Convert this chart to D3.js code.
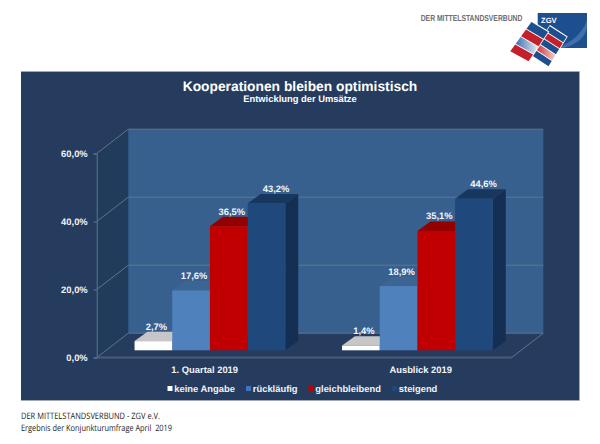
<!DOCTYPE html>
<html lang="de">
<head>
<meta charset="utf-8">
<script src="https://cdn.jsdelivr.net/npm/d3@7/dist/d3.min.js"></script>
<style>
  html, body { margin: 0; padding: 0; background: #fff; }
  svg { display: block; }
  text { font-family: "Liberation Sans", Arial, sans-serif; text-rendering: geometricPrecision; }
</style>
</head>
<body>
<svg id="chart" width="600" height="444"></svg>
<script>
// Survey values, percent
const categories = ["1. Quartal 2019", "Ausblick 2019"];
const seriesNames = ["keine Angabe", "rückläufig", "gleichbleibend", "steigend"];
const keineAngabe = [2.7, 1.4];
const ruecklaeufig = [17.6, 18.9];
const gleichbleibend = [36.5, 35.1];
const steigend = [43.2, 44.6];
const yTicks = [0, 20, 40, 60];

const seriesValues = [keineAngabe, ruecklaeufig, gleichbleibend, steigend];
const fronts = ["#ffffff", "#4f81bd", "#c00000", "#1f497d"];
const tops = ["#c6c6c6", "#3d6593", "#930000", "#17375e"];
const sides = ["#a8a8a8", "#3a6090", "#930000", "#142f53"];
const labelDx = [3, 3, 3, 9.5];

const comma = v => v.toFixed(1).replace(".", ",") + "%";

const svg = d3.select("#chart");

// Panel behind the plot
svg.append("rect").attr("x", 21).attr("y", 71).attr("width", 558).attr("height", 329)
  .attr("fill", "#253c5f");
svg.append("path").attr("d", "M21,71.5H579.5V400.5H21").attr("fill", "none")
  .attr("stroke", "#a3a9b2").attr("stroke-width", 1);

// Scales for the front plane of the 3D box
const clusterWidth = 150.8;
const x = d3.scaleBand().domain(categories).range([96.7, 511.7]);
const y = d3.scaleLinear().domain([0, 60]).range([357.5, 153.5]);
const inner = d3.scaleBand().domain(d3.range(seriesNames.length)).range([0, clusterWidth]);
const catLabelX = d3.scalePoint().domain(categories).range([204.7, 420.7]);

// Box depth and the position of the bars within it
const depth = { dx: 31.6, dy: -24.3 };
const barInset = { dx: 9.5, dy: -7.2 };
const barDepth = { dx: 12.9, dy: -9.4 };
const left = x.range()[0], right = x.range()[1];
const poly = pts => pts.map(p => p.join(",")).join(" ");
const barX = (c, s) => x(categories[c]) + (x.bandwidth() - clusterWidth) / 2 + barInset.dx + inner(s);

const walls = svg.append("g");
// Side wall and back wall
walls.append("polygon").attr("fill", "#203b5b").attr("points", poly([
  [left, y(0)], [left + depth.dx, y(0) + depth.dy],
  [left + depth.dx, y(60) + depth.dy], [left, y(60)]
]));
walls.append("rect").attr("fill", "#37608f")
  .attr("x", left + depth.dx).attr("y", y(60) + depth.dy)
  .attr("width", right - left)
  .attr("height", y(0) - y(60));

// Gridlines running along the side wall and across the back wall
const gridColor = "#62748c";
walls.selectAll("path.grid").data(yTicks).join("path")
  .attr("class", "grid")
  .attr("fill", "none").attr("stroke", gridColor).attr("stroke-width", 1)
  .attr("d", d => `M${left},${y(d)}L${left + depth.dx},${y(d) + depth.dy}H${right + depth.dx}`);
// Right edge of the floor and its thick front edge
walls.append("path").attr("fill", "none").attr("stroke", gridColor).attr("stroke-width", 1)
  .attr("d", `M${right},${y(0)}L${right + depth.dx},${y(0) + depth.dy}`);
walls.append("line").attr("stroke", "#4a5b76").attr("stroke-width", 2)
  .attr("x1", left).attr("x2", right).attr("y1", y(0)).attr("y2", y(0));

// Value axis
const yAxis = svg.append("g").attr("transform", `translate(${left},0)`)
  .call(d3.axisLeft(y).tickValues(yTicks).tickFormat(comma).tickSize(3).tickPadding(6));
yAxis.select(".domain").attr("stroke", gridColor);
yAxis.selectAll(".tick line").attr("stroke", gridColor);
yAxis.selectAll("text").attr("fill", "#f2f4f8").style("font-size", "9.4px").style("font-weight", "bold")
  .style("font-family", '"Liberation Sans", Arial, sans-serif');

// Bars, drawn left to right so each covers its neighbour's side face
const bars = svg.append("g");
seriesValues.forEach((values, s) => {
  values.forEach((v, c) => {
    const x0 = barX(c, s);
    const x1 = x0 + inner.bandwidth();
    const yb = y(0) + barInset.dy;
    const yt = y(v) + barInset.dy;
    const g = bars.append("g");
    g.append("polygon").attr("fill", sides[s]).attr("points", poly([
      [x1, yb], [x1 + barDepth.dx, yb + barDepth.dy],
      [x1 + barDepth.dx, yt + barDepth.dy], [x1, yt]
    ]));
    g.append("polygon").attr("fill", tops[s]).attr("points", poly([
      [x0, yt], [x0 + barDepth.dx, yt + barDepth.dy],
      [x1 + barDepth.dx, yt + barDepth.dy], [x1, yt]
    ]));
    g.append("rect").attr("fill", fronts[s])
      .attr("x", x0).attr("y", yt).attr("width", x1 - x0).attr("height", yb - yt);
  });
});

// Value labels above the bars
const labels = svg.append("g");
seriesValues.forEach((values, s) => {
  values.forEach((v, c) => {
    labels.append("text")
      .attr("x", barX(c, s) + inner.bandwidth() / 2 + labelDx[s])
      .attr("y", y(v) + barInset.dy - 11.5)
      .attr("text-anchor", "middle")
      .attr("fill", "#f4f6fa")
      .style("font-size", "9.4px").style("font-weight", "bold")
      .text(comma(v));
  });
});

// Category labels
svg.append("g").selectAll("text").data(categories).join("text")
  .attr("x", d => catLabelX(d)).attr("y", 372.5)
  .attr("text-anchor", "middle").attr("fill", "#f2f4f8")
  .style("font-size", "9.4px").style("font-weight", "bold")
  .text(d => d);

// Legend
const legendMarkX = [167.5, 246, 308.5, 392];
const legend = svg.append("g").selectAll("g").data(seriesNames).join("g")
  .attr("transform", (d, i) => `translate(${legendMarkX[i]},0)`);
legend.append("rect").attr("y", 386).attr("width", 5).attr("height", 5)
  .attr("fill", (d, i) => i === 1 ? "#3f75b8" : fronts[i]);
legend.append("text").attr("x", 6.8).attr("y", 391.5)
  .attr("fill", "#f2f4f8")
  .style("font-size", "9.4px").style("font-weight", "bold")
  .text(d => d);

// Titles
svg.append("text").attr("x", 300).attr("y", 90.5).attr("text-anchor", "middle")
  .attr("fill", "#fff").style("font-size", "13.8px").style("font-weight", "bold")
  .text("Kooperationen bleiben optimistisch");
svg.append("text").attr("x", 300).attr("y", 102).attr("text-anchor", "middle")
  .attr("fill", "#fff").style("font-size", "9.4px").style("font-weight", "bold")
  .text("Entwicklung der Umsätze");

// Footer
const footerLines = [
  { text: "DER MITTELSTANDSVERBUND - ZGV e.V.", y: 419, w: 139 },
  { text: "Ergebnis der Konjunkturumfrage April\u00a0 2019", y: 430.5, w: 151 }
];
svg.append("g").selectAll("text").data(footerLines).join("text")
  .attr("x", 21).attr("y", d => d.y)
  .attr("textLength", d => d.w).attr("lengthAdjust", "spacingAndGlyphs")
  .attr("fill", "#222")
  .style("font-family", '"Open Sans", sans-serif').style("font-size", "8.8px")
  .text(d => d.text);

// Organisation logo, top right
const logo = svg.append("g");
logo.append("text").attr("transform", "translate(420.7,21) scale(0.79,1)")
  .attr("fill", "#6f6f6f").style("font-size", "8.6px").style("font-weight", "bold")
  .text("DER MITTELSTANDSVERBUND");
logo.append("rect").attr("x", 537.7).attr("y", 13).attr("width", 49.3).attr("height", 35)
  .attr("fill", "#1d4f8f");
logo.append("path").attr("fill", "#3f6ea8")
  .attr("d", "M587,20Q580,40 556,48H564Q584,42 587,28Z");
logo.append("text").attr("x", 541).attr("y", 22.5).attr("fill", "#fff")
  .style("font-size", "7.6px").style("font-weight", "bold").text("ZGV");

const defs = svg.append("defs");
const fade = (id, a, b) => {
  const g = defs.append("linearGradient").attr("id", id)
    .attr("x1", 0).attr("y1", 0).attr("x2", 1).attr("y2", 0);
  g.append("stop").attr("offset", 0).attr("stop-color", a);
  g.append("stop").attr("offset", 1).attr("stop-color", b);
};
fade("fadeBlue", "#3f6fb0", "#e6ecf4");
fade("fadeRed", "#c8262e", "#f0d0c8");

const lerp = (p, q, t) => [p[0] + (q[0] - p[0]) * t, p[1] + (q[1] - p[1]) * t];
// A tilted column of tiles, given its four corners and tile colours
function tileStack(a, b, c, d, colors) {
  logo.append("polygon").attr("points", poly([a, b, c, d])).attr("fill", "#fff")
    .attr("stroke", "#fff").attr("stroke-width", 1.5);
  const n = colors.length, gap = 0.012;
  colors.forEach((col, i) => {
    const t0 = i / n + gap, t1 = (i + 1) / n - gap;
    logo.append("polygon").attr("fill", col).attr("points", poly([
      lerp(a, d, t0), lerp(b, c, t0), lerp(b, c, t1), lerp(a, d, t1)
    ]));
  });
}
tileStack([550, 26], [566.7, 36.7], [548.3, 66.7], [530.7, 55],
  ["#1d4f8f", "#c4202c", "#1d4f8f", "url(#fadeRed)", "#1d4f8f"]);
tileStack([531.7, 21.7], [548.3, 31.7], [528.3, 61.7], [510, 51.7],
  ["#1d4f8f", "#c4202c", "url(#fadeBlue)", "#c4202c"]);
</script>
</body>
</html>
